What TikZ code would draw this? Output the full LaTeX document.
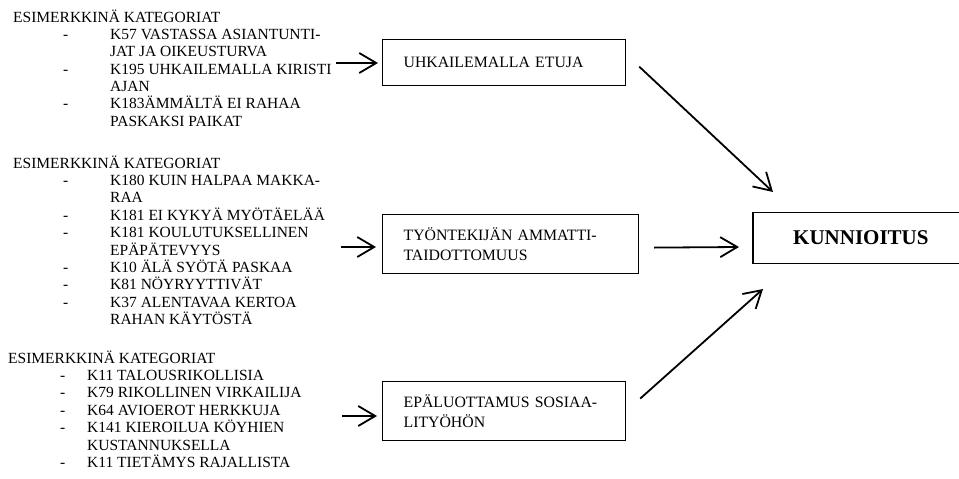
\documentclass[tikz,border=0pt]{standalone}
\usepackage{fontspec}
\setmainfont{Liberation Serif}
\usetikzlibrary{arrows.meta,calc}
\newcommand\itmA[1]{\makebox[97pt][l]{\hspace{50pt}-}#1}
\newcommand\cntA[1]{\makebox[97pt][l]{}#1}
\newcommand\itmB[1]{\makebox[79pt][l]{\hspace{52pt}-}#1}
\newcommand\cntB[1]{\makebox[79pt][l]{}#1}
\tikzset{
  lst/.style={anchor=base west, inner sep=0pt, font=\fontsize{15.5}{17.4}\selectfont},
  catbox/.style={draw, line width=1.2pt, anchor=north west, align=left, inner xsep=21pt,
    font=\fontsize{15.8}{19.5}\selectfont},
  arr/.style={line width=1.8pt, -{Straight Barb[length=17pt,width=20pt]}},
}
\begin{document}
\begin{tikzpicture}[x=1pt,y=-1pt]
\useasboundingbox (0,0) rectangle (959,479);
% category lists
\node[lst] (g1) at (13,22) {\parbox[t]{330pt}{ESIMERKKINÄ KATEGORIAT\\
\itmA{K57 VASTASSA ASIANTUNTI-}\\
\cntA{JAT JA OIKEUSTURVA}\\
\itmA{K195 UHKAILEMALLA KIRISTI}\\
\cntA{AJAN}\\
\itmA{K183ÄMMÄLTÄ EI RAHAA}\\
\cntA{PASKAKSI PAIKAT}}};
\node[lst] (g2) at (13,168) {\parbox[t]{330pt}{ESIMERKKINÄ KATEGORIAT\\
\itmA{K180 KUIN HALPAA MAKKA-}\\
\cntA{RAA}\\
\itmA{K181 EI KYKYÄ MYÖTÄELÄÄ}\\
\itmA{K181 KOULUTUKSELLINEN}\\
\cntA{EPÄPÄTEVYYS}\\
\itmA{K10 ÄLÄ SYÖTÄ PASKAA}\\
\itmA{K81 NÖYRYYTTIVÄT}\\
\itmA{K37 ALENTAVAA KERTOA}\\
\cntA{RAHAN KÄYTÖSTÄ}}};
\node[lst] (g3) at (8,363) {\parbox[t]{330pt}{ESIMERKKINÄ KATEGORIAT\\
\itmB{K11 TALOUSRIKOLLISIA}\\
\itmB{K79 RIKOLLINEN VIRKAILIJA}\\
\itmB{K64 AVIOEROT HERKKUJA}\\
\itmB{K141 KIEROILUA KÖYHIEN}\\
\cntB{KUSTANNUKSELLA}\\
\itmB{K11 TIETÄMYS RAJALLISTA}}};
% boxes
\node[catbox, minimum width=243pt, minimum height=46pt, text width=201pt] (b1) at (382,39)
  {UHKAILEMALLA ETUJA\\[6pt]};
\node[catbox, minimum width=256pt, minimum height=59pt, text width=214pt] (b2) at (382,214)
  {TYÖNTEKIJÄN AMMATTI-\\TAIDOTTOMUUS};
\node[catbox, minimum width=243pt, minimum height=59pt, text width=201pt] (b3) at (382,381)
  {EPÄLUOTTAMUS SOSIAA-\\LITYÖHÖN};
% KUNNIOITUS box: its right side lies beyond the picture's edge
\node[anchor=west, minimum height=50pt, inner xsep=40pt, inner ysep=0pt,
  text width=170pt, align=left,
  font=\fontsize{21}{24}\selectfont\bfseries] (k) at (753,238) {KUNNIOITUS};
\draw[line width=1.2pt] (k.north east) ++(10,0) -- (k.north west) -- (k.south west) -- ++(216,0);
% free ends of the incoming arrows
\coordinate (s1) at (336,63);
\coordinate (s2) at (341,247);
\coordinate (s3) at (342,416);
\draw[arr, shorten >=4pt] (s1) -- (s1 -| b1.west);
\draw[arr, shorten >=6pt] (s2) -- (s2 -| b2.west);
\draw[arr, shorten >=5pt] (s3) -- (s3 -| b3.west);
% arrows to KUNNIOITUS
\draw[arr] ($(b1.east)+(13,4)$) -- ($(k.west)+(20,-46)$);
\draw[arr] ($(b2.east)+(15,3.5)$) -- ($(k.west)+(-14,9)$);
\draw[arr] ($(b3.east)+(14,-12.5)$) -- ($(k.west)+(10,51)$);
\end{tikzpicture}
\end{document}
